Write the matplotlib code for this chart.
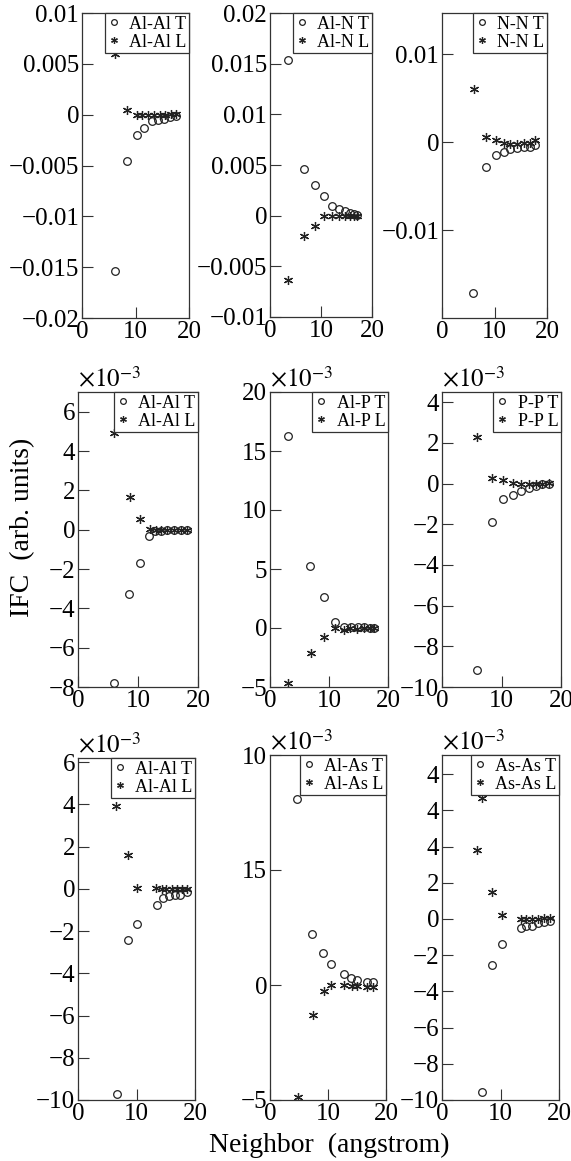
import matplotlib
matplotlib.use("Agg")
import matplotlib.pyplot as plt

plt.rcParams["font.family"] = ["Liberation Serif", "DejaVu Serif"]
plt.rcParams["mathtext.fontset"] = "stix"

# ---- data ----
# row 1: AlN  (plain units)
alal_aln_xt = [6.1, 8.4, 10.2, 11.6, 13.0, 14.2, 15.4, 16.4, 17.6]
alal_aln_yt = [-0.0154, -0.0046, -0.0020, -0.0013, -0.0006, -0.00055, -0.0004, -0.0002, -0.0001]
alal_aln_xl = [6.1, 8.4, 10.2, 11.3, 12.4, 13.4, 14.6, 15.6, 16.6, 17.6]
alal_aln_yl = [0.0060, 0.0005, 0.0, 0.0, 0.0, 0.0, 0.0, 0.0, 0.0001, 0.0001]

aln_xt = [3.5, 6.75, 8.9, 10.6, 12.1, 13.6, 14.75, 15.7, 16.5, 17.0]
aln_yt = [0.0154, 0.0046, 0.0030, 0.0019, 0.0010, 0.00065, 0.0005, 0.0003, 0.00016, 0.0001]
aln_xl = [3.5, 6.75, 8.9, 10.6, 12.1, 13.6, 14.75, 15.7, 16.5, 17.0]
aln_yl = [-0.0063, -0.0020, -0.0010, 0.0, 0.0, 0.0, 0.0, 0.0, 0.0, 0.0]

nn_xt = [5.85, 8.4, 10.2, 11.75, 13.0, 14.3, 15.6, 16.7, 17.8]
nn_yt = [-0.0172, -0.0028, -0.0014, -0.0011, -0.0008, -0.00065, -0.0005, -0.0005, -0.0003]
nn_xl = [6.15, 8.4, 10.2, 11.75, 13.0, 14.3, 15.6, 16.7, 17.8]
nn_yl = [0.0060, 0.0006, 0.0003, -0.0001, -0.0002, -0.0002, -0.0001, -0.0001, 0.0002]

# row 2: AlP  (x10^-3)
alal_alp_xt = [6.0, 8.45, 10.4, 11.9, 12.9, 13.8, 14.9, 16.0, 17.1, 18.1]
alal_alp_yt = [-7.8, -3.25, -1.67, -0.3, -0.05, -0.05, 0.0, 0.0, 0.0, 0.0]
alal_alp_xl = [6.0, 8.7, 10.4, 12.05, 13.0, 13.9, 14.9, 16.0, 17.1, 18.1]
alal_alp_yl = [4.9, 1.65, 0.55, 0.03, 0.0, 0.0, 0.0, 0.0, 0.0, 0.0]

alp_xt = [3.0, 6.85, 9.1, 11.0, 12.6, 13.7, 14.9, 15.9, 16.9, 17.7]
alp_yt = [16.25, 5.28, 2.6, 0.48, 0.1, 0.1, 0.05, 0.05, 0.03, 0.03]
alp_xl = [3.0, 7.0, 9.1, 11.0, 12.6, 13.6, 14.7, 15.9, 16.9, 17.7]
alp_yl = [-4.7, -2.1, -0.74, 0.0, -0.15, 0.0, -0.1, 0.0, 0.0, 0.0]

pp_xt = [5.8, 8.45, 10.25, 11.9, 13.3, 14.7, 15.8, 16.8, 18.0]
pp_yt = [-9.14, -1.89, -0.77, -0.58, -0.38, -0.2, -0.12, -0.03, 0.0]
pp_xl = [5.9, 8.45, 10.25, 11.9, 13.3, 14.7, 15.8, 16.8, 18.0]
pp_yl = [2.27, 0.25, 0.16, 0.05, 0.0, -0.03, -0.03, 0.0, 0.03]

# row 3: AlAs  (x10^-3)
alal_alas_xt = [6.75, 8.55, 10.05, 13.5, 14.6, 15.6, 16.5, 17.4, 18.6]
alal_alas_yt = [-9.73, -2.44, -1.65, -0.76, -0.44, -0.36, -0.28, -0.28, -0.13]
alal_alas_xl = [6.55, 8.55, 10.05, 13.4, 14.3, 15.1, 16.0, 16.9, 17.7, 18.6]
alal_alas_yl = [3.94, 1.61, 0.03, 0.03, 0.0, 0.0, 0.0, 0.0, 0.0, 0.0]

alas_xt = [4.7, 7.3, 9.15, 10.55, 12.7, 13.9, 15.0, 16.7, 17.8]
alas_yt = [8.09, 2.2, 1.38, 0.91, 0.48, 0.32, 0.22, 0.14, 0.14]
alas_xl = [4.85, 7.4, 9.25, 10.55, 12.7, 14.1, 15.0, 16.7, 17.8]
alas_yl = [-4.86, -1.3, -0.25, 0.0, 0.0, -0.05, -0.05, -0.07, -0.07]

asas_xt = [6.8, 8.6, 10.2, 13.5, 14.4, 15.4, 16.4, 17.4, 18.4]
asas_yt = [-9.54, -2.54, -1.4, -0.52, -0.37, -0.37, -0.24, -0.18, -0.11]
asas_xl = [6.8, 6.05, 8.6, 10.3, 13.5, 14.4, 15.4, 16.4, 17.4, 18.4]
asas_yl = [6.67, 3.81, 1.51, 0.22, 0.0, 0.0, 0.0, 0.0, 0.07, 0.04]

labels = [("Al-Al T", "Al-Al L"), ("Al-N T", "Al-N L"), ("N-N T", "N-N L"),
          ("Al-Al T", "Al-Al L"), ("Al-P T", "Al-P L"), ("P-P T", "P-P L"),
          ("Al-Al T", "Al-Al L"), ("Al-As T", "Al-As L"), ("As-As T", "As-As L")]

series = [(alal_aln_xt, alal_aln_yt, alal_aln_xl, alal_aln_yl),
          (aln_xt, aln_yt, aln_xl, aln_yl),
          (nn_xt, nn_yt, nn_xl, nn_yl),
          (alal_alp_xt, alal_alp_yt, alal_alp_xl, alal_alp_yl),
          (alp_xt, alp_yt, alp_xl, alp_yl),
          (pp_xt, pp_yt, pp_xl, pp_yl),
          (alal_alas_xt, alal_alas_yt, alal_alas_xl, alal_alas_yl),
          (alas_xt, alas_yt, alas_xl, alas_yl),
          (asas_xt, asas_yt, asas_xl, asas_yl)]

ylims = [(-0.02, 0.01), (-0.01, 0.02), (-0.02, 0.0147),
         (-8, 7), (-5, 20), (-10, 4.5),
         (-10, 6.2), (-5, 10), (-10, 9.06)]

yticks = [[-0.02, -0.015, -0.01, -0.005, 0, 0.005, 0.01],
          [-0.01, -0.005, 0, 0.005, 0.01, 0.015, 0.02],
          [-0.01, 0, 0.01],
          [-8, -6, -4, -2, 0, 2, 4, 6],
          [-5, 0, 5, 10, 15, 20],
          [-10, -8, -6, -4, -2, 0, 2, 4],
          [-10, -8, -6, -4, -2, 0, 2, 4, 6],
          [-5, 0, 5, 10],
          [-10, -8, -6, -4, -2, 0, 2, 4, 6, 8]]

M = "\u2212"
yticklabels = [[M + "0.02", M + "0.015", M + "0.01", M + "0.005", "0", "0.005", "0.01"],
               [M + "0.01", M + "0.005", "0", "0.005", "0.01", "0.015", "0.02"],
               [M + "0.01", "0", "0.01"],
               [M + "8", M + "6", M + "4", M + "2", "0", "2", "4", "6"],
               [M + "5", "0", "5", "10", "15", "20"],
               [M + "10", M + "8", M + "6", M + "4", M + "2", "0", "2", "4"],
               [M + "10", M + "8", M + "6", M + "4", M + "2", "0", "2", "4", "6"],
               [M + "5", "0", "15", "10"],
               [M + "10", M + "8", M + "6", M + "4", M + "2", "0", "2", "4", "4", "4"]]

scaled = [False, False, False, True, True, True, True, True, True]

# axes boxes in pixels: left, top, right, bottom
boxes = [(82, 13, 189, 318), (270, 13, 372, 317), (442, 13, 547, 318),
         (78, 392, 198, 687), (270, 392, 388, 687), (442, 392, 561, 687),
         (78, 758, 195, 1100), (270, 755, 386, 1100), (442, 755, 559, 1100)]

W, H = 571, 1161
fig = plt.figure(figsize=(W / 100, H / 100), dpi=100)

for i in range(9):
    l, t, r, b = boxes[i]
    ax = fig.add_axes([l / W, 1 - b / H, (r - l) / W, (b - t) / H])
    xt, yt, xl, yl = series[i]
    ax.plot(xt, yt, linestyle="none", marker="o", markersize=5.5,
            markerfacecolor="none", markeredgecolor="#222222", markeredgewidth=0.9,
            label=labels[i][0])
    ax.plot(xl, yl, linestyle="none", marker=(6, 2, 0), markersize=6.5,
            color="#222222", markeredgewidth=0.9, label=labels[i][1])
    ax.set_xlim(0, 20)
    ax.set_ylim(*ylims[i])
    ax.set_xticks([0, 10, 20])
    ax.set_xticklabels(["0", "10", "20"])
    ax.set_yticks(yticks[i])
    ax.set_yticklabels(yticklabels[i])
    ax.tick_params(direction="in", length=8, width=0.8, labelsize=18, pad=2,
                   top=False, right=False, color="#333333")
    for s in ax.spines.values():
        s.set_linewidth(0.9)
        s.set_color("#333333")
    leg = ax.legend(loc="upper right", borderaxespad=0, fontsize=13,
                    handlelength=0.7, handletextpad=0.5, borderpad=0.15,
                    labelspacing=0.05, markerscale=0.75, fancybox=False,
                    framealpha=1, edgecolor="#333333")
    leg.get_frame().set_linewidth(0.9)
    if scaled[i]:
        ax.text(0.0, 1.0, r"$\times10^{-3}$", transform=ax.transAxes,
                ha="left", va="bottom", fontsize=18)

fig.text(23 / W, 1 - 527 / H, "IFC  (arb. units)", rotation=90,
         ha="center", va="center", fontsize=20)
fig.text(329 / W, 1 - 1145 / H, "Neighbor  (angstrom)",
         ha="center", va="center", fontsize=20)

fig.savefig("out.png", dpi=100)
